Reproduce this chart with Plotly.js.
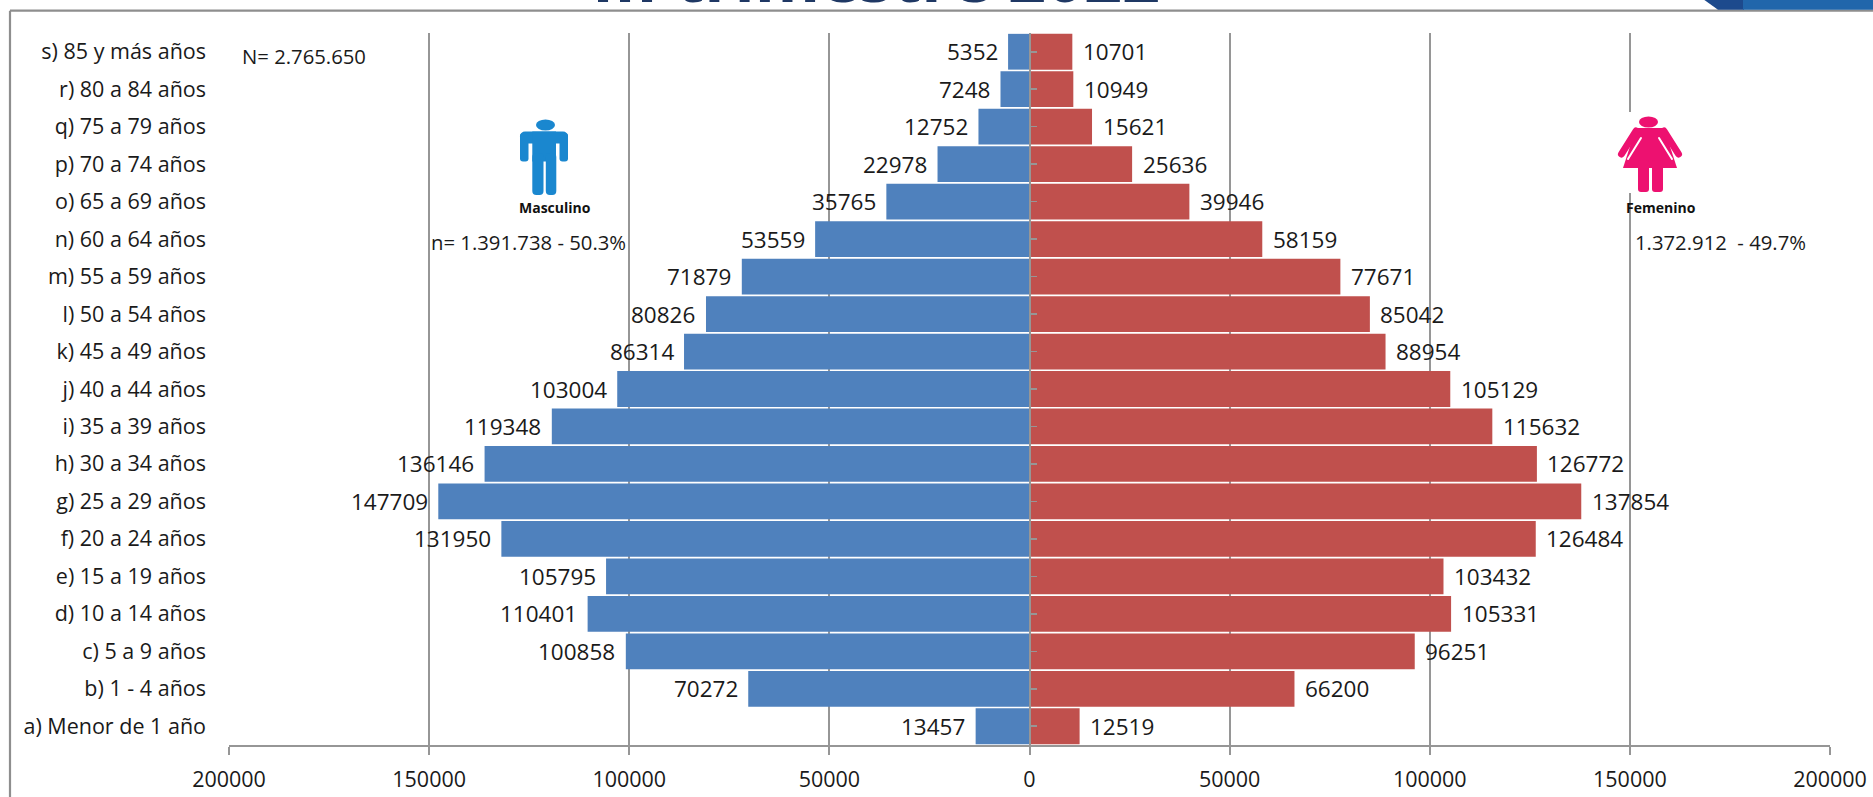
<!DOCTYPE html>
<html>
<head>
<meta charset="utf-8">
<script src="https://cdn.plot.ly/plotly-3.0.1.min.js"></script>
<style>html,body{margin:0;padding:0;background:#fff}#chart{width:1873px;height:797px}</style>
</head>
<body>
<div id="chart"></div>
<script>
const categories = ["a) Menor de 1 año","b) 1 - 4 años","c) 5 a 9 años","d) 10 a 14 años","e) 15 a 19 años","f) 20 a 24 años","g) 25 a 29 años","h) 30 a 34 años","i) 35 a 39 años","j) 40 a 44 años","k) 45 a 49 años","l) 50 a 54 años","m) 55 a 59 años","n) 60 a 64 años","o) 65 a 69 años","p) 70 a 74 años","q) 75 a 79 años","r) 80 a 84 años","s) 85 y más años"];
const masculino = [13457,70272,100858,110401,105795,131950,147709,136146,119348,103004,86314,80826,71879,53559,35765,22978,12752,7248,5352];
const femenino = [12519,66200,96251,105331,103432,126484,137854,126772,115632,105129,88954,85042,77671,58159,39946,25636,15621,10949,10701];
const xTickVals = [-200000,-150000,-100000,-50000,0,50000,100000,150000,200000];
const xTickText = ["200000","150000","100000","50000","0","50000","100000","150000","200000"];

const W=1873,H=797,L=229,R=1830,T=33,B=745;
const px=x=>(x-L)/(R-L), py=y=>(B-y)/(B-T);
const FONT='"Open Sans", sans-serif', INK='#1a1a1a', GRID='#969696';
const SZ=21.5, LABEL_SZ=22.5;

const manSvg=`<svg xmlns="http://www.w3.org/2000/svg" width="300" height="330" viewBox="0 0 100 110"><g fill="#1a87cf"><ellipse cx="45.5" cy="20" rx="9.5" ry="5.5"/><rect x="20" y="26.5" width="48" height="12" rx="5"/><rect x="20" y="28" width="8.5" height="28.5" rx="3"/><rect x="59.5" y="28" width="8.5" height="28.5" rx="3"/><rect x="32.3" y="26.5" width="23.7" height="30"/><rect x="32.3" y="48" width="11.2" height="42" rx="4"/><rect x="45.8" y="48" width="10.5" height="42" rx="4"/></g></svg>`;
const womanSvg=`<svg xmlns="http://www.w3.org/2000/svg" width="390" height="360" viewBox="0 0 130 120"><rect x="20" y="12" width="85" height="81" fill="#fff"/><g fill="#ed1170"><ellipse cx="58.5" cy="22" rx="9.5" ry="5.5"/><polygon points="46,28 74,28 87,68 33,68"/><rect x="48" y="60" width="11" height="32" rx="3"/><rect x="62" y="60" width="11" height="32" rx="3"/></g><g fill="none" stroke-linecap="round"><path d="M51,38 L38,59" stroke="#fff" stroke-width="2"/><path d="M69,38 L82,59" stroke="#fff" stroke-width="2"/><path d="M46,31 L31.5,54" stroke="#ed1170" stroke-width="7"/><path d="M74,31 L88.5,54" stroke="#ed1170" stroke-width="7"/></g></svg>`;
const uri=s=>'data:image/svg+xml;charset=utf-8,'+encodeURIComponent(s);

const label=(v,i,sign)=>({xref:'x',yref:'y',x:sign*v,y:categories[i],text:String(v),showarrow:false,
  xanchor:sign<0?'right':'left',xshift:sign*8.5,yanchor:'middle',font:{family:FONT,size:LABEL_SZ,color:INK}});
const note=(x,y,text,size,bold)=>({xref:'paper',yref:'paper',x:px(x),y:py(y),text:bold?'<b>'+text+'</b>':text,showarrow:false,
  xanchor:'left',yanchor:'middle',font:{family:FONT,size,color:bold?'#111':INK}});

const traces=[
 {type:'bar',orientation:'h',name:'Masculino',y:categories,x:masculino.map(v=>-v),marker:{color:'#4f81bd'},hoverinfo:'y+text',text:masculino.map(String),textposition:'none'},
 {type:'bar',orientation:'h',name:'Femenino',y:categories,x:femenino,marker:{color:'#c0504d'},hoverinfo:'y+x'},
 {type:'scatter',mode:'none',x:[0],y:[0],yaxis:'y2',hoverinfo:'skip',showlegend:false}
];
const layout={
 width:W,height:H,paper_bgcolor:'#fff',plot_bgcolor:'#fff',showlegend:false,barmode:'overlay',bargap:0.045,
 margin:{l:L,r:W-R,t:T,b:H-B,pad:0},
 xaxis:{range:[-200000,200000],tickmode:'array',tickvals:xTickVals,ticktext:xTickText,showgrid:true,gridcolor:GRID,gridwidth:2,zeroline:false,
   showline:true,linecolor:GRID,linewidth:2,ticks:'outside',ticklen:8,tickwidth:2,tickcolor:GRID,ticklabelstandoff:6,
   tickfont:{family:FONT,size:SZ,color:INK},fixedrange:true},
 yaxis:{type:'category',categoryorder:'array',categoryarray:categories,showgrid:false,zeroline:false,showline:false,ticks:'',ticklabelstandoff:22,
   tickfont:{family:FONT,size:SZ,color:INK},fixedrange:true},
 yaxis2:{overlaying:'y',anchor:'free',position:0.5,side:'right',range:[-0.5,18.5],tickmode:'linear',tick0:0,dtick:1,showgrid:false,zeroline:false,
   showline:true,linecolor:GRID,linewidth:2,ticks:'outside',ticklen:6,tickwidth:1.6,tickcolor:GRID,showticklabels:false,fixedrange:true},
 images:[
  {source:uri(manSvg),xref:'paper',yref:'paper',x:px(500),y:py(105),sizex:100/(R-L),sizey:110/(B-T),xanchor:'left',yanchor:'top',sizing:'stretch',layer:'above'},
  {source:uri(womanSvg),xref:'paper',yref:'paper',x:px(1590),y:py(100),sizex:130/(R-L),sizey:120/(B-T),xanchor:'left',yanchor:'top',sizing:'stretch',layer:'above'}
 ],
 shapes:[
  {type:'line',xref:'paper',yref:'paper',x0:px(10),x1:px(W),y0:py(10.7),y1:py(10.7),line:{color:'#8e8e8e',width:2.2},layer:'above'},
  {type:'line',xref:'paper',yref:'paper',x0:px(10),x1:px(10),y0:py(10.7),y1:py(H),line:{color:'#8e8e8e',width:2.2},layer:'above'},
  {type:'path',xref:'paper',yref:'paper',path:`M${px(1703)},${py(-1)} L${px(1718)},${py(9.7)} L${px(1744)},${py(9.7)} L${px(1744)},${py(-1)} Z`,fillcolor:'#1d4a8d',line:{width:0},layer:'above'},
  {type:'rect',xref:'paper',yref:'paper',x0:px(1743),x1:px(W),y0:py(-1),y1:py(9.7),fillcolor:'#2166ab',line:{width:0},layer:'above'}
 ],
 annotations:[
  {xref:'paper',yref:'paper',x:px(876),y:py(23),xanchor:'center',yanchor:'bottom',showarrow:false,text:'<b>III trimestre 2022</b>',font:{family:FONT,size:66.5,color:'#1f3864'}},
  ...masculino.map((v,i)=>label(v,i,-1)),
  ...femenino.map((v,i)=>label(v,i,1)),
  note(240,56,'N= 2.765.650',20.3),
  note(429,241.7,'n= 1.391.738 - 50.3%',20.3),
  note(1633,241.7,'1.372.912&nbsp; - 49.7%',20.3),
  note(517,207,'Masculino',14,true),
  note(1624,207,'Femenino',14,true)
 ]
};
Plotly.newPlot('chart',traces,layout,{displayModeBar:false,staticPlot:true});
</script>
</body>
</html>
